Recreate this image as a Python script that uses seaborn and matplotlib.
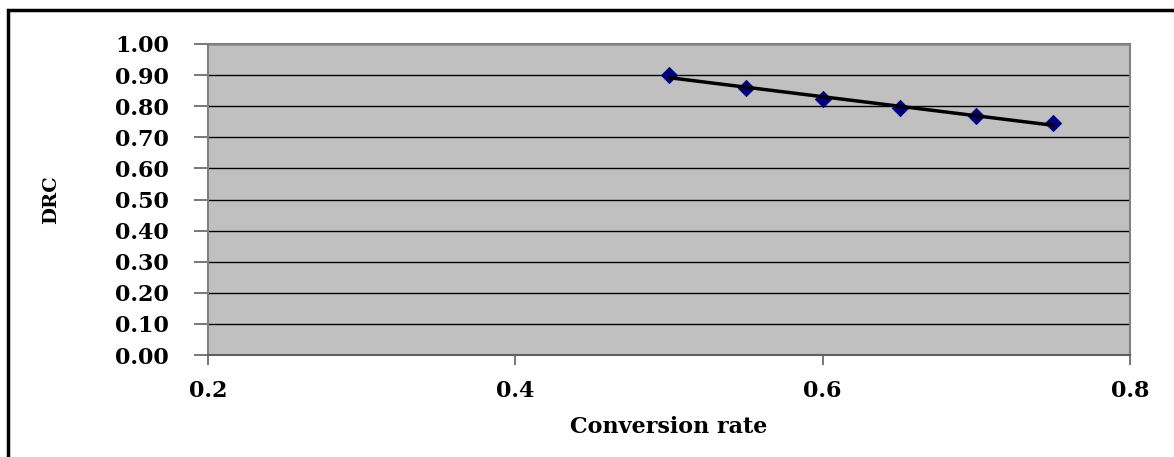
import numpy as np
import pandas as pd
import matplotlib
matplotlib.use("Agg")
import matplotlib.pyplot as plt
import seaborn as sns
from matplotlib.patches import Rectangle

conversion_rate = [0.50, 0.55, 0.60, 0.65, 0.70, 0.75]
drc = [0.900, 0.860, 0.822, 0.795, 0.768, 0.746]
x_ticks = [0.2, 0.4, 0.6, 0.8]
y_ticks = [0.0, 0.1, 0.2, 0.3, 0.4, 0.5, 0.6, 0.7, 0.8, 0.9, 1.0]
x_label = "Conversion rate"
y_label = "DRC"

df = pd.DataFrame({"x": conversion_rate, "y": drc})

sns.set_theme(style="white")
plt.rcParams["font.family"] = ["DejaVu Serif"]
plt.rcParams["text.color"] = "black"
plt.rcParams["axes.labelcolor"] = "black"
plt.rcParams["xtick.color"] = "black"
plt.rcParams["ytick.color"] = "black"

W, H = 1174, 457
fig = plt.figure(figsize=(W / 100, H / 100), dpi=100)
ax = fig.add_axes([208 / W, 1 - 355 / H, (1130 - 208) / W, (355 - 44) / H])
ax.set_facecolor("#C0C0C0")

sns.scatterplot(data=df, x="x", y="y", ax=ax, marker="D", s=70,
                color="#000080", edgecolor="#000080", linewidth=0.5, zorder=3)
sns.regplot(data=df, x="x", y="y", ax=ax, ci=None, scatter=False,
            line_kws={"color": "black", "linewidth": 2.5, "zorder": 4})

ax.set_xlim(0.2, 0.8)
ax.set_ylim(0.0, 1.0)
ax.set_xticks(x_ticks)
ax.set_xticklabels([f"{v:.1f}" for v in x_ticks])
ax.set_yticks(y_ticks)
ax.set_yticklabels([f"{v:.2f}" for v in y_ticks])

ax.grid(axis="y", color="black", linewidth=1.0)
ax.grid(axis="x", visible=False)
ax.set_axisbelow(True)
for side in ["top", "right", "left", "bottom"]:
    ax.spines[side].set_visible(True)
    ax.spines[side].set_color("#808080")
    ax.spines[side].set_linewidth(1.5)
ax.spines["bottom"].set_color("#606060")

ax.tick_params(axis="y", direction="out", length=10, width=1.2, color="#606060",
               left=True, pad=18, labelsize=16)
ax.tick_params(axis="x", direction="out", length=7, width=1.2, color="#606060",
               bottom=True, pad=11, labelsize=16)
for lab in ax.get_xticklabels() + ax.get_yticklabels():
    lab.set_fontweight("bold")

ax.set_xlabel(x_label, fontsize=16, fontweight="bold", labelpad=10)
ax.set_ylabel(y_label, fontsize=14, fontweight="bold", labelpad=40)

fig.patches.append(Rectangle((8 / W, -0.2), 1.2, 1 - 10 / H + 0.2,
                             transform=fig.transFigure, fill=False,
                             edgecolor="black", linewidth=2.5))

fig.savefig("out.png", dpi=100)
